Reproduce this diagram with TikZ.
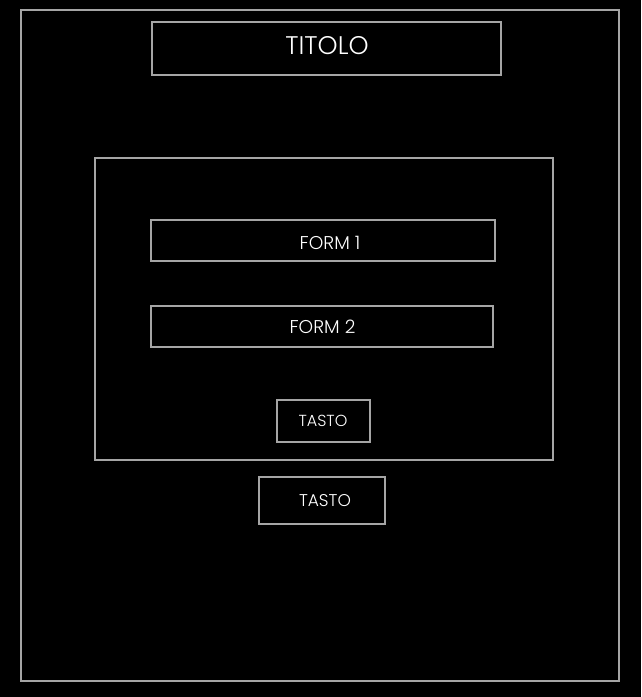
\documentclass[tikz,border=0pt]{standalone}
\usepackage{fontspec}
\IfFontExistsTF{Poppins Light}{\setmainfont{Poppins Light}}{\setmainfont{Poppins}}
\begin{document}
\begin{tikzpicture}[x=1pt,y=-1pt,
  box/.style={draw=boxgray,line width=1.4pt},
  lbl/.style={text=white,font=\fontsize{#1}{#1}\selectfont,inner sep=0pt}]
\definecolor{boxgray}{RGB}{165,165,165}
\fill[black] (0,0) rectangle (641,697);
\useasboundingbox (0,0) rectangle (641,697);
\draw[box] (21,10) rectangle (619,681);
\draw[box] (152,22) rectangle (501,75);
\node[lbl=25.5] (titolo) at (327,46) {TITOLO};
\draw[box] (95,158) rectangle (553,460);
\draw[box] (151,220) rectangle (495,261);
\node[lbl=18.5] (form1) at (330,243) {FORM 1};
\draw[box] (151,306) rectangle (493,347);
\node[lbl=18.5] (form2) at (322.5,327) {FORM 2};
\draw[box] (277,400) rectangle (370,442);
\node[lbl=16] (tasto1) at (323,421) {TASTO};
\draw[box] (259,477) rectangle (385,524);
\node[lbl=17] (tasto2) at (325,501) {TASTO};
\end{tikzpicture}
\end{document}
